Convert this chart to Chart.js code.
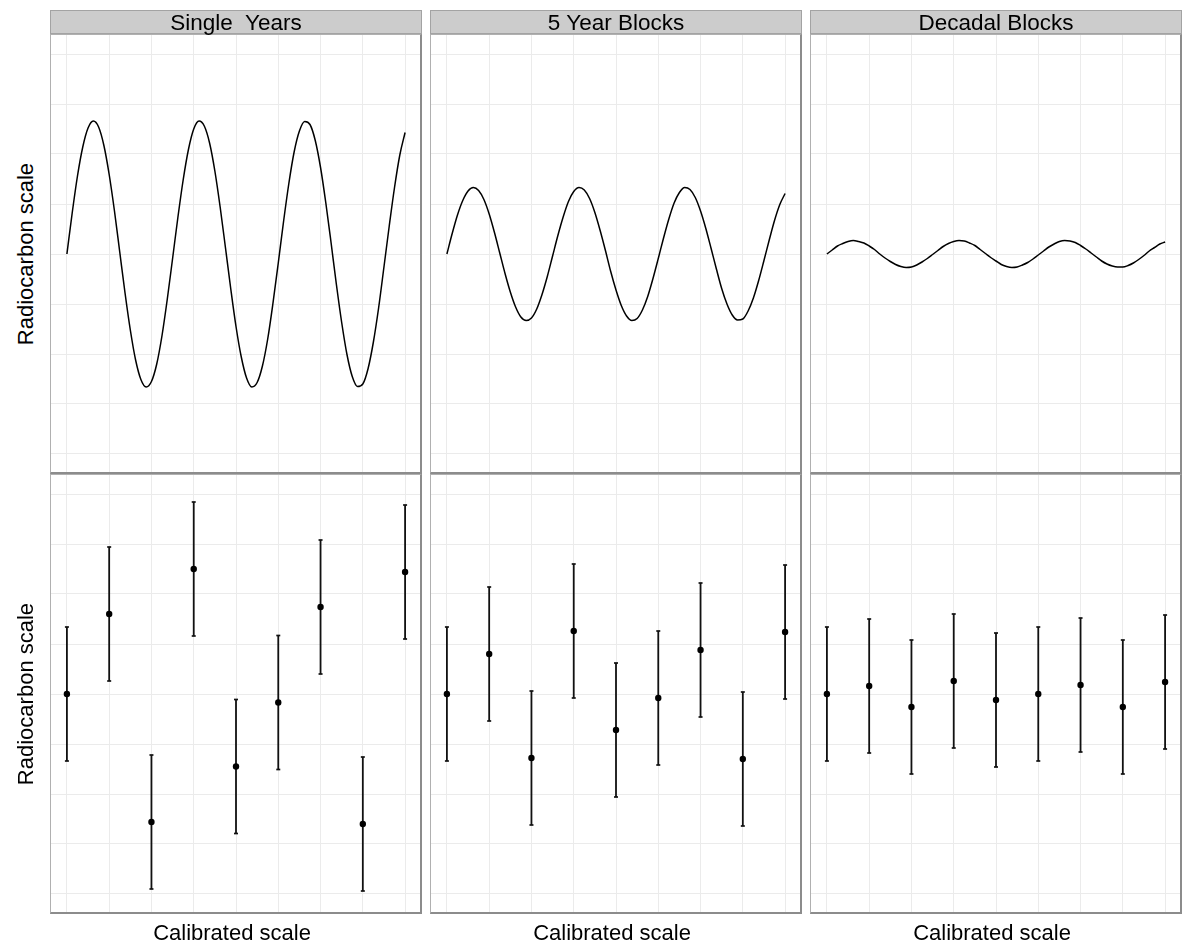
<!DOCTYPE html>
<html>
<head>
<meta charset="utf-8">
<script src="https://cdn.jsdelivr.net/npm/chart.js@4.4.1/dist/chart.umd.min.js"></script>
<style>
  body { margin: 0; background: #fff; font-family: "Liberation Sans", Arial, sans-serif; color: #000; }
  #page { position: relative; width: 1187px; height: 945px; overflow: hidden; }
  #page canvas { position: absolute; }
  .strip {
    position: absolute; top: 10px; width: 372px; height: 24px; box-sizing: border-box;
    background: #cccccc; border: 1px solid #a3a3a3;
    font-size: 22.5px; line-height: 23px; text-align: center; white-space: pre;
  }
  .frame {
    position: absolute; width: 372px; height: 440px; box-sizing: border-box; pointer-events: none;
    border-left: 1px solid #b0b0b0; border-top: 1px solid #b0b0b0;
    border-right: 2px solid #8c8c8c; border-bottom: 2px solid #8c8c8c;
  }
  .xtitle { position: absolute; top: 921px; width: 364px; height: 24px; line-height: 24px; font-size: 22px; text-align: center; }
  .ytitle {
    position: absolute; left: -124px; width: 300px; height: 24px; line-height: 24px;
    font-size: 22px; text-align: center; transform: rotate(-90deg);
  }
</style>
</head>
<body>
<div id="page"></div>
<script>
const panelTitles = ['Single  Years', '5 Year Blocks', 'Decadal Blocks']
const xTitle = 'Calibrated scale'
const yTitle = 'Radiocarbon scale'

const xBreaks = [0, 1, 2, 3, 4, 5, 6, 7, 8]
const yBreaks = [-4, -3, -2, -1, 0, 1, 2, 3, 4]

// calibration curve, sampled every eighth of a calibrated step
const curveX = [0, 0.125, 0.25, 0.375, 0.5, 0.625, 0.75, 0.875, 1, 1.125, 1.25, 1.375, 1.5, 1.625,
  1.75, 1.875, 2, 2.125, 2.25, 2.375, 2.5, 2.625, 2.75, 2.875, 3, 3.125, 3.25, 3.375, 3.5, 3.625,
  3.75, 3.875, 4, 4.125, 4.25, 4.375, 4.5, 4.625, 4.75, 4.875, 5, 5.125, 5.25, 5.375, 5.5, 5.625,
  5.75, 5.875, 6, 6.125, 6.25, 6.375, 6.5, 6.625, 6.75, 6.875, 7, 7.125, 7.25, 7.375, 7.5, 7.625,
  7.75, 7.875, 8]
const curveSingle = [0, 0.82, 1.56, 2.14, 2.52, 2.66, 2.54, 2.17, 1.59, 0.86,
  0.04, -0.78, -1.52, -2.12, -2.51, -2.66, -2.55, -2.20, -1.63, -0.90,
  -0.09, 0.73, 1.48, 2.09, 2.50, 2.66, 2.56, 2.22, 1.66, 0.94,
  0.13, -0.69, -1.45, -2.06, -2.48, -2.66, -2.57, -2.24, -1.70, -0.98,
  -0.18, 0.65, 1.41, 2.04, 2.46, 2.65, 2.59, 2.27, 1.73, 1.02,
  0.22, -0.61, -1.37, -2.01, -2.45, -2.65, -2.60, -2.29, -1.76, -1.07,
  -0.26, 0.56, 1.33, 1.98, 2.43]
const curveFive = [0, 0.41, 0.78, 1.07, 1.26, 1.33, 1.27, 1.09, 0.80, 0.43,
  0.02, -0.39, -0.76, -1.06, -1.26, -1.33, -1.28, -1.10, -0.81, -0.45,
  -0.04, 0.37, 0.74, 1.05, 1.25, 1.33, 1.28, 1.11, 0.83, 0.47,
  0.07, -0.35, -0.72, -1.03, -1.24, -1.33, -1.29, -1.12, -0.85, -0.49,
  -0.09, 0.32, 0.70, 1.02, 1.23, 1.33, 1.29, 1.13, 0.86, 0.51,
  0.11, -0.30, -0.69, -1.00, -1.22, -1.32, -1.30, -1.14, -0.88, -0.53,
  -0.13, 0.28, 0.67, 0.99, 1.21]
const curveDecadal = [0, 0.08, 0.16, 0.21, 0.25, 0.27, 0.25, 0.22, 0.16, 0.09,
  0.00, -0.08, -0.15, -0.21, -0.25, -0.27, -0.26, -0.22, -0.16, -0.09,
  -0.01, 0.07, 0.15, 0.21, 0.25, 0.27, 0.26, 0.22, 0.17, 0.09,
  0.01, -0.07, -0.14, -0.21, -0.25, -0.27, -0.26, -0.22, -0.17, -0.10,
  -0.02, 0.06, 0.14, 0.20, 0.25, 0.27, 0.26, 0.23, 0.17, 0.10,
  0.02, -0.06, -0.14, -0.20, -0.24, -0.26, -0.26, -0.23, -0.18, -0.11,
  -0.03, 0.06, 0.13, 0.20, 0.24]

// radiocarbon determinations, one per calibrated step
const dateX = [0, 1, 2, 3, 4, 5, 6, 7, 8]
const dateSingle = [0, 1.60, -2.56, 2.50, -1.45, -0.17, 1.74, -2.60, 2.44]
const dateFive = [0, 0.80, -1.28, 1.26, -0.72, -0.08, 0.88, -1.30, 1.24]
const dateDecadal = [0, 0.16, -0.26, 0.26, -0.12, 0, 0.18, -0.26, 0.24]
const dateError = 1.34

const curves = [curveSingle, curveFive, curveDecadal]
const dates = [dateSingle, dateFive, dateDecadal]

const page = document.getElementById('page')

function el(tag, cls, css, text) {
  const e = document.createElement(tag)
  if (cls) e.className = cls
  Object.assign(e.style, css)
  if (text) e.textContent = text
  page.appendChild(e)
  return e
}

function axis(min, max, breaks) {
  return {
    type: 'linear', min, max,
    afterBuildTicks: s => { s.ticks = breaks.map(v => ({ value: v })) },
    ticks: { display: false },
    grid: { color: '#ebebeb', lineWidth: 1, drawTicks: false },
    border: { display: false }
  }
}

function panel(left, top, datasets) {
  const c = el('canvas', '', { left: left + 'px', top: top + 'px' })
  c.width = 372
  c.height = 440
  new Chart(c, {
    type: 'line',
    data: { datasets },
    options: {
      responsive: false,
      animation: false,
      events: [],
      layout: { padding: 0, autoPadding: false },
      plugins: { legend: { display: false }, tooltip: { enabled: false } },
      scales: { x: axis(-0.4, 8.4, xBreaks), y: axis(-4.4, 4.4, yBreaks) }
    }
  })
  el('div', 'frame', { left: left + 'px', top: top + 'px' })
}

panelTitles.forEach((title, i) => {
  const left = 50 + i * 380

  panel(left, 34, [{
    data: curveX.map((x, k) => ({ x, y: curves[i][k] })),
    borderColor: '#000', borderWidth: 1.5, pointRadius: 0,
    cubicInterpolationMode: 'monotone', fill: false
  }])

  const whiskers = []
  dateX.forEach((x, k) => {
    whiskers.push({ x, y: dates[i][k] - dateError }, { x, y: dates[i][k] + dateError }, { x, y: null })
  })
  panel(left, 474, [
    {
      data: dateX.map((x, k) => ({ x, y: dates[i][k] })),
      showLine: false, pointRadius: 3.2, pointBackgroundColor: '#000', pointBorderWidth: 0
    },
    {
      data: whiskers, spanGaps: false,
      borderColor: '#111', borderWidth: 1.8,
      pointStyle: 'line', pointRadius: 2, pointBorderColor: '#111', pointBorderWidth: 1.7
    }
  ])

  el('div', 'strip', { left: left + 'px' }, title)
  el('div', 'xtitle', { left: left + 'px' }, xTitle)
})

el('div', 'ytitle', { top: '242px' }, yTitle)
el('div', 'ytitle', { top: '682px' }, yTitle)
</script>
</body>
</html>
